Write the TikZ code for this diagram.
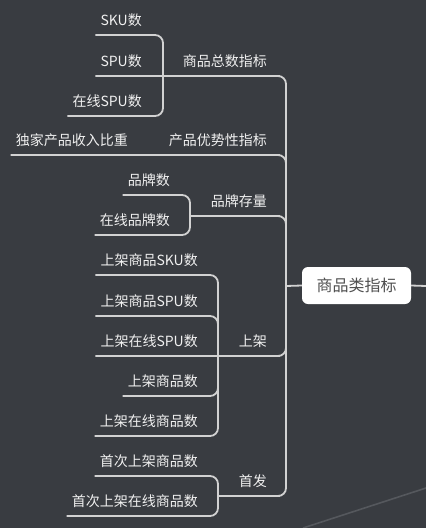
\documentclass[tikz,border=0pt]{standalone}
\usepackage{fontspec}
\newfontfamily\cjk{Noto Sans CJK SC}
\definecolor{bgcol}{HTML}{393C41}
\definecolor{linecol}{HTML}{D2D2D2}
\definecolor{rootcol}{HTML}{505050}
\definecolor{faintcol}{HTML}{55585D}

\tikzset{
  leaf/.style={font=\cjk\fontsize{14}{16}\selectfont, text=white!94!black,
    inner xsep=5pt, inner ysep=9.5pt, text depth=0pt, anchor=south east},
  rootbox/.style={font=\cjk\fontsize{16}{18}\selectfont, text=rootcol, fill=white,
    rounded corners=6pt, minimum width=109pt, minimum height=37pt, inner sep=0pt},
  branch/.style={draw=linecol, line width=1.8pt, rounded corners=8pt},
}

\begin{document}
\begin{tikzpicture}[x=1pt,y=-1pt]
	\fill[bgcol] (0,0) rectangle (426,528);
	\useasboundingbox (0,0) rectangle (426,528);
	\draw[faintcol, line width=1.6pt] (303,528) -- (426,488);
	% root and hub
	\node[rootbox] (root) at (356.5,285.5) {商品类指标};
	\coordinate (hub) at (286,286);
	\coordinate (out) at (426,286);
	% first level
	\node[leaf] (zs) at (272,76) {商品总数指标};
	\node[leaf] (ys) at (272,155) {产品优势性指标};
	\node[leaf] (cl) at (272,216) {品牌存量};
	\node[leaf] (sj) at (272,356) {上架};
	\node[leaf] (sf) at (272,496) {首发};
	% second level
	\node[leaf] (sku) at (147,35) {SKU数};
	\node[leaf] (spu) at (147,76) {SPU数};
	\node[leaf] (zxspu) at (147,116) {在线SPU数};
	\node[leaf] (dj) at (133,155) {独家产品收入比重};
	\node[leaf] (pps) at (175,195) {品牌数};
	\node[leaf] (zxpps) at (175,235) {在线品牌数};
	\node[leaf] (sj1) at (203,275) {上架商品SKU数};
	\node[leaf] (sj2) at (203,316) {上架商品SPU数};
	\node[leaf] (sj3) at (203,356) {上架在线SPU数};
	\node[leaf] (sj4) at (203,396) {上架商品数};
	\node[leaf] (sj5) at (203,436) {上架在线商品数};
	\node[leaf] (sf1) at (203,476) {首次上架商品数};
	\node[leaf] (sf2) at (203,516) {首次上架在线商品数};
	\coordinate (b-zs) at (163,76);
	\coordinate (b-cl) at (190,216);
	\coordinate (b-sj) at (218,356);
	\coordinate (b-sf) at (218,496);
	% connectors
	\draw[branch] (root.east) -- (out);
	\draw[branch] (hub) -- (root.west);
	\draw[branch] (hub) |- (zs.south east) -- (spu.south west);
	\draw[branch] (hub) |- (ys.south east) -- (dj.south west);
	\draw[branch] (hub) |- (cl.south east) -- (b-cl);
	\draw[branch] (hub) |- (sj.south east) -- (sj3.south west);
	\draw[branch] (hub) |- (sf.south east) -- (b-sf);
	\foreach \n in {sku,zxspu} \draw[branch] (b-zs) |- (\n.south west);
	\foreach \n in {pps,zxpps} \draw[branch] (b-cl) |- (\n.south west);
	\foreach \n in {sj1,sj2,sj4,sj5} \draw[branch] (b-sj) |- (\n.south west);
	\foreach \n in {sf1,sf2} \draw[branch] (b-sf) |- (\n.south west);
\end{tikzpicture}
\end{document}
